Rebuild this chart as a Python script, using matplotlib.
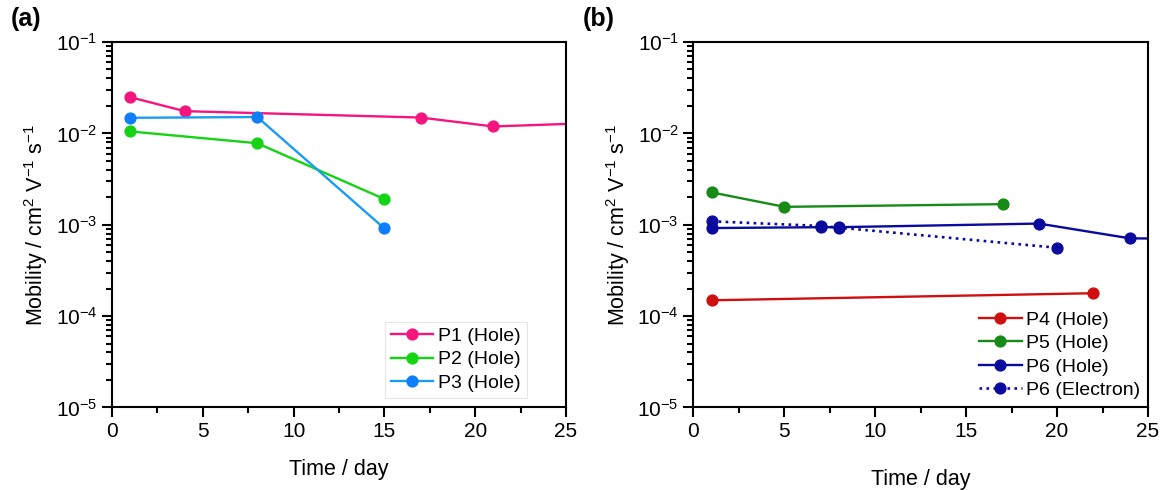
import numpy as np
import matplotlib.pyplot as plt
from matplotlib.ticker import LogLocator, MultipleLocator, NullFormatter

plt.rcParams['font.family'] = ['Liberation Sans', 'DejaVu Sans']
plt.rcParams['mathtext.fontset'] = 'custom'
plt.rcParams['mathtext.rm'] = 'Liberation Sans'
plt.rcParams['mathtext.it'] = 'Liberation Sans:italic'
plt.rcParams['mathtext.default'] = 'regular'

# panel (a)
p1_day = [1, 4, 17, 21, 28]
p1_mob = [0.0249, 0.0175, 0.0149, 0.0119, 0.0133]
p2_day = [1, 8, 15]
p2_mob = [0.0105, 0.0078, 0.00191]
p3_day = [1, 8, 15]
p3_mob = [0.0148, 0.0151, 0.00091]

# panel (b)
p4_day = [1, 22]
p4_mob = [1.49e-4, 1.78e-4]
p5_day = [1, 5, 17]
p5_mob = [2.26e-3, 1.57e-3, 1.68e-3]
p6h_day = [1, 7, 8, 19, 24, 28]
p6h_mob = [9.2e-4, 9.4e-4, 9.4e-4, 1.03e-3, 7.1e-4, 7.0e-4]
p6e_day = [1, 7, 8, 20]
p6e_mob = [1.09e-3, 9.7e-4, 9.3e-4, 5.6e-4]

fig = plt.figure(figsize=(11.63, 4.9), dpi=100)
ax1 = fig.add_axes([0.0963, 0.1684, 0.3904, 0.7459])
ax2 = fig.add_axes([0.5963, 0.1684, 0.3908, 0.7459])

kw = dict(marker='o', markersize=7.8, linewidth=1.7)
ax1.plot(p1_day, p1_mob, color='#F5157F', label='P1 (Hole)', **kw)
ax1.plot(p2_day, p2_mob, color='#14D414', label='P2 (Hole)', **kw)
ax1.plot(p3_day, p3_mob, color='#1A9CF2', markerfacecolor='#0F7EFA',
         markeredgecolor='#0F7EFA', label='P3 (Hole)', **kw)

ax2.plot(p4_day, p4_mob, color='#D01010', label='P4 (Hole)', **kw)
ax2.plot(p5_day, p5_mob, color='#178A17', label='P5 (Hole)', **kw)
ax2.plot(p6h_day, p6h_mob, color='#0A0A9E', label='P6 (Hole)', **kw)
ax2.plot(p6e_day, p6e_mob, color='#0A0A9E', linestyle=':', label='P6 (Electron)',
         marker='o', markersize=7.8, linewidth=1.9)

for ax in (ax1, ax2):
    ax.set_yscale('log')
    ax.set_xlim(0, 25)
    ax.set_ylim(1e-5, 1e-1)
    ax.xaxis.set_major_locator(MultipleLocator(5))
    ax.xaxis.set_minor_locator(MultipleLocator(2.5))
    ax.yaxis.set_major_locator(LogLocator(base=10, numticks=10))
    ax.yaxis.set_minor_locator(LogLocator(base=10, subs=np.arange(2, 10), numticks=10))
    ax.yaxis.set_minor_formatter(NullFormatter())
    ax.tick_params(which='major', direction='out', length=7, width=1.5, labelsize=15)
    ax.tick_params(which='minor', direction='out', length=4, width=1.5)
    for s in ax.spines.values():
        s.set_linewidth(1.5)
    ax.set_ylabel('Mobility / cm$^{2}$ V$^{-1}$ s$^{-1}$', fontsize=15.5)

ax1.set_xlabel('Time / day', fontsize=15.5, labelpad=13)
ax2.set_xlabel('Time / day', fontsize=15.5, labelpad=20)

leg1 = ax1.legend(loc='lower right', bbox_to_anchor=(0.935, 0.0), fontsize=14,
                  handlelength=2.2, handletextpad=0.25, labelspacing=0.3,
                  borderpad=0.3, fancybox=False, framealpha=1)
leg1.get_frame().set_edgecolor('#E6E6E6')
leg1.get_frame().set_linewidth(0.8)
ax2.legend(loc='lower right', bbox_to_anchor=(1.022, -0.025), fontsize=14,
           handlelength=2.2, handletextpad=0.25, labelspacing=0.3,
           borderpad=0.4, frameon=False)

fig.text(0.009, 0.962, '(a)', fontsize=18, fontweight='bold', va='center')
fig.text(0.501, 0.962, '(b)', fontsize=18, fontweight='bold', va='center')

fig.savefig('out.png', dpi=100)
